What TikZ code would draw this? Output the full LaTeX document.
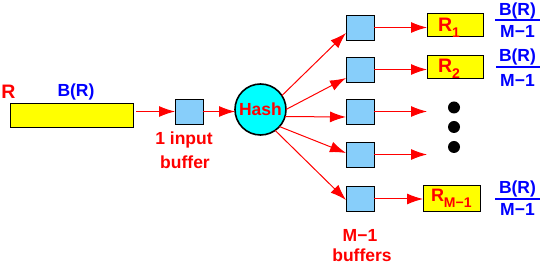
\documentclass[tikz,border=0pt]{standalone}
\usepackage{fontspec}
\setmainfont{Liberation Sans}
\usetikzlibrary{arrows.meta,calc}
\definecolor{bufblue}{RGB}{135,206,250}
\definecolor{hashcyan}{RGB}{0,255,255}
\definecolor{boxyellow}{RGB}{255,255,0}
\definecolor{pred}{RGB}{255,0,0}
\definecolor{pblue}{RGB}{0,0,255}
\newcommand\mysub[1]{\raisebox{-6pt}{\fontsize{14}{14}\selectfont #1}}
\begin{document}
\begin{tikzpicture}[x=1pt,y=-1pt,
  every node/.style={inner sep=0pt,outer sep=0pt},
  txt/.style={font=\fontsize{17.5}{20}\selectfont\bfseries},
  redtxt/.style={txt,text=pred},
  bluetxt/.style={txt,text=pblue},
  bigred/.style={font=\fontsize{19.5}{22}\selectfont\bfseries,text=pred},
  buf/.style={draw=black,line width=0.9pt,fill=bufblue,minimum width=28pt,minimum height=25pt},
  ybox/.style={draw=black,line width=0.9pt,fill=boxyellow},
  arr/.style={draw=pred,line width=1pt,-{Latex[length=16pt,width=11pt]}},
  dotc/.style={circle,fill=black,minimum size=12pt},
  fbar/.style={draw=pblue,line width=2pt},
]
\useasboundingbox (0,0) rectangle (542,264);

% input relation
\node[ybox,minimum width=123pt,minimum height=24pt] (rbox) at (71.5,115) {};
\node[bigred,anchor=base] (rlab) at (8.5,99) {R};
\node[bluetxt,anchor=base] (brlab) at (76,97) {B(R)};

% input buffer
\node[buf] (inb) at (189,111.5) {};
\node[redtxt,anchor=base] (inl1) at (184,145) {1 input};
\node[redtxt,anchor=base] (inl2) at (185,169) {buffer};

% hash
\node[circle,draw=black,line width=1.6pt,fill=hashcyan,minimum size=51pt,redtxt] (hash) at (260.5,109.5) {Hash};

% output buffers
\node[buf] (b1) at (360,27.5) {};
\node[buf] (b2) at (360,69.5) {};
\node[buf] (b3) at (360,111.5) {};
\node[buf] (b4) at (360,154.5) {};
\node[buf] (b5) at (360,199) {};
\node[redtxt,anchor=base] (ml1) at (360,242) {M−1};
\node[redtxt,anchor=base] (ml2) at (362,261.5) {buffers};

% partitions
\node[ybox,minimum width=56pt,minimum height=23pt] (r1) at (455,24.5) {};
\node[ybox,minimum width=56pt,minimum height=23pt] (r2) at (455,66.5) {};
\node[ybox,minimum width=57pt,minimum height=26pt] (rm) at (451.5,198) {};
\node[bigred,anchor=base west] (r1l) at (438,32) {R\mysub{1}};
\node[bigred,anchor=base west] (r2l) at (438,73) {R\mysub{2}};
\node[bigred,font=\fontsize{18}{20}\selectfont\bfseries,anchor=base west] (rml) at (431,202) {R\mysub{M−1}};

% dots
\node[dotc] (d1) at (454,107.5) {};
\node[dotc] (d2) at (454,127) {};
\node[dotc] (d3) at (454,147) {};

% sizes
\node[bluetxt,anchor=base] (f1n) at (517.5,16) {B(R)};
\draw[fbar] (495,20) -- (540,20);
\node[bluetxt,anchor=base] (f1d) at (517.5,38) {M−1};
\node[bluetxt,anchor=base] (f2n) at (517.5,62) {B(R)};
\draw[fbar] (496,67) -- (540,67);
\node[bluetxt,anchor=base] (f2d) at (517.5,87) {M−1};
\node[bluetxt,anchor=base] (f3n) at (517.5,194) {B(R)};
\draw[fbar] (495,199.5) -- (540,199.5);
\node[bluetxt,anchor=base] (f3d) at (517.5,216) {M−1};

% arrows
\draw[arr,shorten <=3pt] (rbox.east |- inb.west) -- (inb.west);
\draw[arr] (inb.east) -- (hash.west |- inb.east);
\draw[arr] (hash.33) -- ($(b1.west)+(0,5.5)$);
\draw[arr] (hash.0) -- ($(b2.west)+(0,8.5)$);
\draw[arr] (hash.-16) -- ($(b3.west)+(0,5.5)$);
\draw[arr] (hash.-42) -- ($(b4.west)+(0,-1.5)$);
\draw[arr] (hash.-55) -- ($(b5.west)+(0,1)$);
\draw[arr] (b1.east) -- (b1.east -| r1.west);
\draw[arr] (b2.east) -- (b2.east -| r2.west);
\draw[arr] (b3.east) -- (b3.east -| r1.west);
\draw[arr] (b4.east) -- (b4.east -| r1.west);
\draw[arr] (b5.east) -- (b5.east -| rm.west);
\end{tikzpicture}
\end{document}
